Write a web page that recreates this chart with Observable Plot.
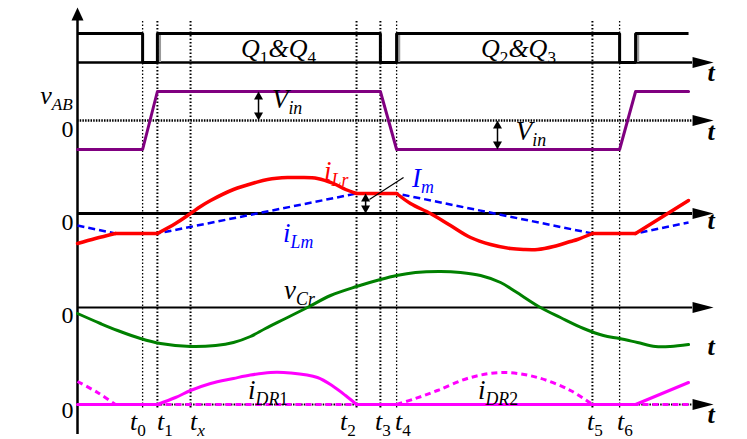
<!DOCTYPE html>
<html><head><meta charset="utf-8">
<script src="https://cdn.jsdelivr.net/npm/d3@7"></script>
<script src="https://cdn.jsdelivr.net/npm/@observablehq/plot@0.6"></script>
<style>html,body{margin:0;padding:0;background:#fff;} #chart svg{display:block;}</style>
</head><body><div id="chart"></div>
<script>
// ---------------- data (time in arbitrary units, half switching period = 100) ----------------
const eventNames = ["t_{0}", "t_{1}", "t_{x}", "t_{2}", "t_{3}", "t_{4}", "t_{5}", "t_{6}"];
const eventTimes = [27.3, 33.5, 47.4, 117.0, 127.0, 133.8, 215.9, 227.3];

const gateTimes  = [0, 27.3, 33.5, 127.0, 133.8, 227.3, 234.0, 256.2];
const gateLevels = [1, 0, 1, 0, 1, 0, 1, 1];
const gateLabels = ["Q_{1}&Q_{4}", "Q_{2}&Q_{3}"];

const vabTimes  = [0, 27.3, 33.5, 127.0, 133.8, 227.3, 234.0, 256.2];
const vabLevels = [-1, -1, 1, 1, -1, -1, 1, 1];

const iLrTimes  = [0, 7.5, 15.9, 33.5, 41.1, 47.4, 51.6, 55.8, 65.4, 74.6, 79.7, 88.1, 93.5, 100.6, 107.3, 112.4, 117.0,
                   133.8, 139.6, 148.0, 156.4, 164.8, 173.2, 181.6, 187.0, 192.9, 199.6, 206.7, 209.6, 215.9, 234.0, 256.2];
const iLrValues = [-3.0, -2.5, -2.0, -2.0, -1.0, 0, 0.7, 1.3, 2.4, 3.1, 3.4, 3.6, 3.6, 3.5, 3.0, 2.4, 2.0,
                   2.0, 1.0, 0, -1.2, -2.4, -3.1, -3.5, -3.6, -3.6, -3.3, -2.8, -2.6, -2.0, -2.0, 1.3];

const iLmTimes  = [0, 15.9, 33.5, 117.0, 133.8, 215.9, 234.0, 256.2];
const iLmValues = [-1.2, -2.0, -2.0, 2.0, 2.0, -2.0, -2.0, -0.9];

const vCrTimes  = [0, 9.6, 16.8, 26.4, 34.8, 47.4, 57.9, 65.4, 72.5, 78.8, 87.2, 96.4, 106.1, 117.0, 127.0, 133.8,
                   141.7, 152.2, 160.6, 169.0, 177.4, 183.6, 194.1, 202.5, 212.2, 220.5, 227.3, 234.8, 242.3, 248.6, 256.2];
const vCrValues = [-0.6, -1.6, -2.3, -3.1, -3.6, -3.9, -3.8, -3.5, -2.9, -2.1, -1.1, 0, 1.2, 2.1, 2.8, 3.2,
                   3.5, 3.6, 3.5, 3.2, 2.5, 1.6, 0, -1.0, -2.1, -2.8, -3.1, -3.5, -3.9, -3.9, -3.7];

const iDR1Times  = [0, 33.5, 41.1, 47.4, 55.8, 65.4, 72.5, 80.9, 89.3, 100.6, 107.3, 112.4, 117.0, 234.0, 256.2];
const iDR1Values = [0, 0, 0.7, 1.4, 2.1, 2.6, 2.95, 3.2, 3.15, 2.7, 1.8, 0.9, 0, 0, 2.2];

const iDR2Times  = [0, 8.4, 15.9, 133.8, 141.7, 150.9, 164.8, 178.6, 192.9, 206.7, 215.9, 256.2];
const iDR2Values = [2.3, 1.2, 0, 0, 0.6, 1.4, 2.7, 3.2, 2.7, 1.4, 0, 0];

const waveLabels = ["v_{AB}", "V_{in}", "V_{in}", "i_{Lr}", "i_{Lm}", "I_{m}", "v_{Cr}", "i_{DR1}", "i_{DR2}"];
const zeroLabel = "0";
const axisLabel = "t";

// ---------------- layout ----------------
const row = {gate: 62, vab: 120, ilr: 213, vcr: 307, idr: 404};
const gain = {gate: 29, vab: 29, ilr: 10, vcr: 10, idr: 10};
const T_AXIS_END = 257.9, T_TIP = 266.7;
const FONT = "Liberation Serif";

const zip = (ts, vs) => ts.map((t, i) => ({t, v: vs[i]}));
function segments(ts, vs, breaks) {
  const out = []; let seg = 0;
  ts.forEach((t, i) => {
    out.push({t, v: vs[i], seg});
    if (breaks.includes(t)) { seg++; out.push({t, v: vs[i], seg}); }
  });
  return out;
}
const yOf = (base, g) => d => base - g * d.v;

const tri = pts => ({draw(ctx) { ctx.moveTo(pts[0][0], pts[0][1]); for (const p of pts.slice(1)) ctx.lineTo(p[0], p[1]); ctx.closePath(); }});
const headRight = tri([[0, 0], [-21, -5.5], [-21, 5.5]]);
const headUp = tri([[0, 0], [-6, 13], [6, 13]]);
const smallUp = tri([[0, 0], [-4.5, 8], [4.5, 8]]);
const smallDown = tri([[0, 0], [-4.5, -8], [4.5, -8]]);

const thinIdx = [0, 5, 7];
const thickRules = eventTimes.filter((d, i) => !thinIdx.includes(i));
const thinRules = eventTimes.filter((d, i) => thinIdx.includes(i));
const risingEdges = gateTimes.filter((t, i) => i > 0 && gateLevels[i] === 1 && gateLevels[i - 1] === 0);

const notes = [
  {text: waveLabels[0], t: -2.0, y: 95, anchor: "end", color: "black"},
  {text: waveLabels[1], t: 81.5, y: 99, anchor: "start", color: "black"},
  {text: waveLabels[2], t: 183.8, y: 131, anchor: "start", color: "black"},
  {text: waveLabels[3], t: 103.4, y: 171, anchor: "start", color: "#ff0000"},
  {text: waveLabels[4], t: 86.2, y: 233, anchor: "start", color: "#0000ff"},
  {text: waveLabels[5], t: 140.3, y: 178, anchor: "start", color: "#0000ff"},
  {text: waveLabels[6], t: 86.6, y: 290, anchor: "start", color: "black"},
  {text: waveLabels[7], t: 71.5, y: 390, anchor: "start", color: "black"},
  {text: waveLabels[8], t: 167.9, y: 390, anchor: "start", color: "black"}
];
const gateNotes = [
  {text: gateLabels[0], t: 84.3, y: 48},
  {text: gateLabels[1], t: 184.9, y: 48}
];
const eventLabelStarts = [22.0, 33.3, 47.2, 110.1, 124.7, 133.1, 213.6, 226.2];
const eventNotes = eventNames.map((s, i) => ({text: s, t: eventLabelStarts[i], y: 421}));
const zeroNotes = [129, 222, 315, 410].map(y => ({text: zeroLabel, t: -1.7, y}));
const axisNotes = [72, 131, 220, 346, 414].map(y => ({text: axisLabel, t: T_TIP - 1.0, y}));

const txt = (data, anchor, size, extra = {}) => Plot.text(data, {x: "t", y: "y", text: "text", fill: extra.fill ?? "color", textAnchor: anchor, fontFamily: FONT, fontSize: size, fontStyle: extra.fontStyle ?? "italic", fontWeight: extra.fontWeight});

const plot = Plot.plot({
  width: 747, height: 439, margin: 0,
  x: {domain: [0, 280], range: [77, 77 + 280 * 2.385], axis: null},
  y: {domain: [0, 439], range: [0, 439], axis: null},
  marks: [
    Plot.ruleX(thickRules, {y1: 21, y2: 408, stroke: "black", strokeWidth: 2, strokeDasharray: "1.5,2"}),
    Plot.ruleX(thinRules, {y1: 21, y2: 408, stroke: "black", strokeWidth: 1.3, strokeDasharray: "1.5,2"}),
    Plot.ruleX([0], {y1: 19, y2: 434, stroke: "black", strokeWidth: 2.5}),
    Plot.dot([{t: 0, y: 7}], {x: "t", y: "y", symbol: headUp, fill: "black", stroke: "none"}),
    Plot.ruleY([row.gate], {x1: 0, x2: T_AXIS_END, stroke: "black", strokeWidth: 2.5}),
    Plot.ruleY([row.vab], {x1: 0, x2: T_AXIS_END, stroke: "black", strokeWidth: 2.5, strokeDasharray: "1.5,1.2"}),
    Plot.ruleY([row.ilr], {x1: 0, x2: T_AXIS_END, stroke: "black", strokeWidth: 3}),
    Plot.ruleY([row.vcr], {x1: 0, x2: T_AXIS_END, stroke: "black", strokeWidth: 2}),
    Plot.ruleY([row.idr], {x1: 0, x2: T_AXIS_END, stroke: "black", strokeWidth: 2.2, strokeDasharray: "1.5,1.2"}),
    Plot.dot(Object.values(row).map(y => ({t: T_TIP, y})), {x: "t", y: "y", symbol: headRight, fill: "black", stroke: "none"}),
    Plot.ruleX(risingEdges.map(t => t + 1.0), {y1: row.gate - gain.gate, y2: row.gate, stroke: "#9a9a9a", strokeWidth: 2.5}),
    Plot.line(zip(gateTimes, gateLevels), {x: "t", y: yOf(row.gate, gain.gate), curve: "step-after", stroke: "black", strokeWidth: 3, strokeLinecap: "butt", strokeLinejoin: "miter"}),
    Plot.line(zip(vabTimes, vabLevels), {x: "t", y: yOf(row.vab, gain.vab), stroke: "#800080", strokeWidth: 3}),
    Plot.line(zip(iLmTimes, iLmValues), {x: "t", y: yOf(row.ilr, gain.ilr), stroke: "#0000ff", strokeWidth: 2.5, strokeDasharray: "7,4", strokeLinecap: "butt"}),
    Plot.line(segments(iLrTimes, iLrValues, [15.9, 33.5, 117.0, 133.8, 215.9, 234.0]), {x: "t", y: yOf(row.ilr, gain.ilr), z: "seg", curve: "catmull-rom", stroke: "#ff0000", strokeWidth: 3.5}),
    Plot.line(zip(vCrTimes, vCrValues), {x: "t", y: yOf(row.vcr, gain.vcr), curve: "catmull-rom", stroke: "#008000", strokeWidth: 3}),
    Plot.line(segments(iDR2Times, iDR2Values, [15.9, 133.8, 215.9]), {x: "t", y: yOf(row.idr, gain.idr), z: "seg", curve: "catmull-rom", stroke: "#ff00ff", strokeWidth: 3, strokeDasharray: "6,4", strokeLinecap: "butt"}),
    Plot.line(segments(iDR1Times, iDR1Values, [33.5, 117.0, 234.0]), {x: "t", y: yOf(row.idr, gain.idr), z: "seg", curve: "catmull-rom", stroke: "#ff00ff", strokeWidth: 3}),
    Plot.ruleX([{t: 75.9, a: 96, b: 116}, {t: 176.1, a: 125, b: 145}, {t: 120.8, a: 197, b: 209}], {x: "t", y1: "a", y2: "b", stroke: "black", strokeWidth: 1.5}),
    Plot.dot([{t: 75.9, y: 91}, {t: 176.1, y: 120}, {t: 120.8, y: 193}], {x: "t", y: "y", symbol: smallUp, fill: "black", stroke: "none"}),
    Plot.dot([{t: 75.9, y: 120}, {t: 176.1, y: 149}, {t: 120.8, y: 213}], {x: "t", y: "y", symbol: smallDown, fill: "black", stroke: "none"}),
    Plot.link([{a: 122.4, b: 199, c: 136.7, d: 177}], {x1: "a", y1: "b", x2: "c", y2: "d", stroke: "black", strokeWidth: 1.2}),
    txt(notes.filter(d => d.t > 0), "start", 27),
    txt(notes.filter(d => d.t <= 0), "end", 26),
    txt(gateNotes, "middle", 26, {fill: "black"}),
    txt(eventNotes, "start", 26, {fill: "black"}),
    txt(zeroNotes, "end", 24, {fill: "black", fontStyle: "normal"}),
    txt(axisNotes, "middle", 26, {fill: "black", fontWeight: "bold"})
  ]
});
document.getElementById("chart").appendChild(plot);

// render "_{...}" as real subscripts (tspans)
function richText(svg) {
  const ns = "http://www.w3.org/2000/svg";
  svg.querySelectorAll("text").forEach(el => {
    const s = el.textContent;
    if (!/_\{/.test(s)) return;
    const size = parseFloat(getComputedStyle(el).fontSize) || 26;
    const parts = [];
    const re = /_\{([^}]*)\}|([^_]+)/g;
    let m;
    while ((m = re.exec(s))) parts.push(m[1] !== undefined ? {s: m[1], sub: true} : {s: m[2], sub: false});
    el.textContent = "";
    let shifted = false;
    for (const p of parts) {
      const runs = p.s.match(/\d+|\D+/g) || [];
      runs.forEach((r, k) => {
        const ts = document.createElementNS(ns, "tspan");
        ts.textContent = r;
        ts.setAttribute("font-style", /^\d+$/.test(r) ? "normal" : "italic");
        if (p.sub) ts.setAttribute("font-size", (size * 0.66).toFixed(1));
        if (k === 0) {
          if (p.sub && !shifted) { ts.setAttribute("dy", (size * 0.22).toFixed(1)); shifted = true; }
          else if (!p.sub && shifted) { ts.setAttribute("dy", (-size * 0.22).toFixed(1)); shifted = false; }
        }
        el.appendChild(ts);
      });
    }
  });
}
richText(plot);
</script>
</body></html>
